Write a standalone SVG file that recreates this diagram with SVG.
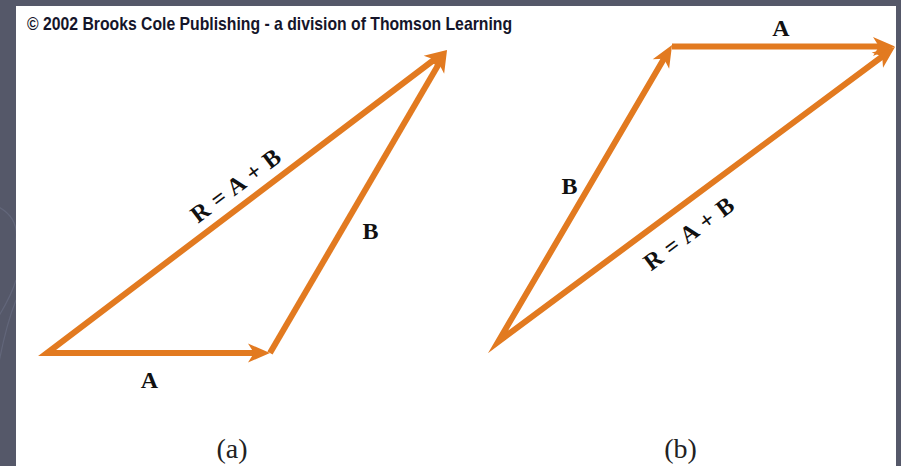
<svg xmlns="http://www.w3.org/2000/svg" width="901" height="466" viewBox="0 0 901 466">
  <style>
    .vec { fill: none; stroke: #e27a20; stroke-width: 6; stroke-linejoin: miter; stroke-miterlimit: 12; stroke-linecap: butt; }
    .lbl { font-family: "Liberation Serif", "Times New Roman", serif; font-weight: bold; font-size: 24px; fill: #111; text-anchor: middle; }
    .cap { font-family: "Liberation Serif", "Times New Roman", serif; font-size: 28px; fill: #222; text-anchor: middle; }
    .copy { font-family: "Liberation Sans", Arial, sans-serif; font-weight: bold; font-size: 18.5px; fill: #15152a; }
    .deco { fill: none; stroke: #62667a; stroke-width: 1.2; }
  </style>
  <defs>
    <marker id="head" markerUnits="userSpaceOnUse" markerWidth="30" markerHeight="24" viewBox="-25 -12 30 24" refX="-10" refY="0" orient="auto-start-reverse">
      <path d="M 0 0 L -22 -9.5 L -16 0 L -22 9.5 Z" fill="#e27a20"/>
    </marker>
  </defs>

  <rect x="0" y="0" width="901" height="466" fill="#555869"/>
  <path class="deco" d="M -20 200 Q 20 210 16 240"/>
  <path class="deco" d="M 16 300 Q 0 340 -10 420"/>
  <path class="deco" d="M -10 330 Q 10 300 16 280"/>
  <rect x="16" y="6" width="880" height="460" fill="#ffffff"/>

  <text class="copy" x="27" y="29.5" textLength="485" lengthAdjust="spacingAndGlyphs">© 2002 Brooks Cole Publishing - a division of Thomson Learning</text>

  <g id="connectors">
    <path id="a-R-A" class="vec" d="M 439 56 L 47 353 L 260 353" marker-start="url(#head)" marker-end="url(#head)"/>
    <path id="a-B" class="vec" d="M 270 353 L 442 58.6" marker-end="url(#head)"/>
    <path id="b-B-R" class="vec" d="M 667 53.6 L 498 342 L 887 53" marker-start="url(#head)" marker-end="url(#head)"/>
    <path id="b-A" class="vec" d="M 672 46.5 L 885 46.5" marker-end="url(#head)"/>
  </g>

  <g id="fig-a">
    <g id="a-label-A"><text class="lbl" x="149.5" y="388">A</text></g>
    <g id="a-label-B"><text class="lbl" x="370.5" y="239">B</text></g>
    <g id="a-label-R"><text class="lbl" transform="translate(240.5,192) rotate(-36.8)" x="0" y="0" textLength="106" lengthAdjust="spacing">R = A + B</text></g>
    <g id="a-caption"><text class="cap" x="232" y="458">(a)</text></g>
  </g>

  <g id="fig-b">
    <g id="b-label-A"><text class="lbl" x="781" y="36">A</text></g>
    <g id="b-label-B"><text class="lbl" x="569.5" y="194">B</text></g>
    <g id="b-label-R"><text class="lbl" transform="translate(693.5,240) rotate(-36.6)" x="0" y="0" textLength="106" lengthAdjust="spacing">R = A + B</text></g>
    <g id="b-caption"><text class="cap" x="680.5" y="458">(b)</text></g>
  </g>
</svg>
